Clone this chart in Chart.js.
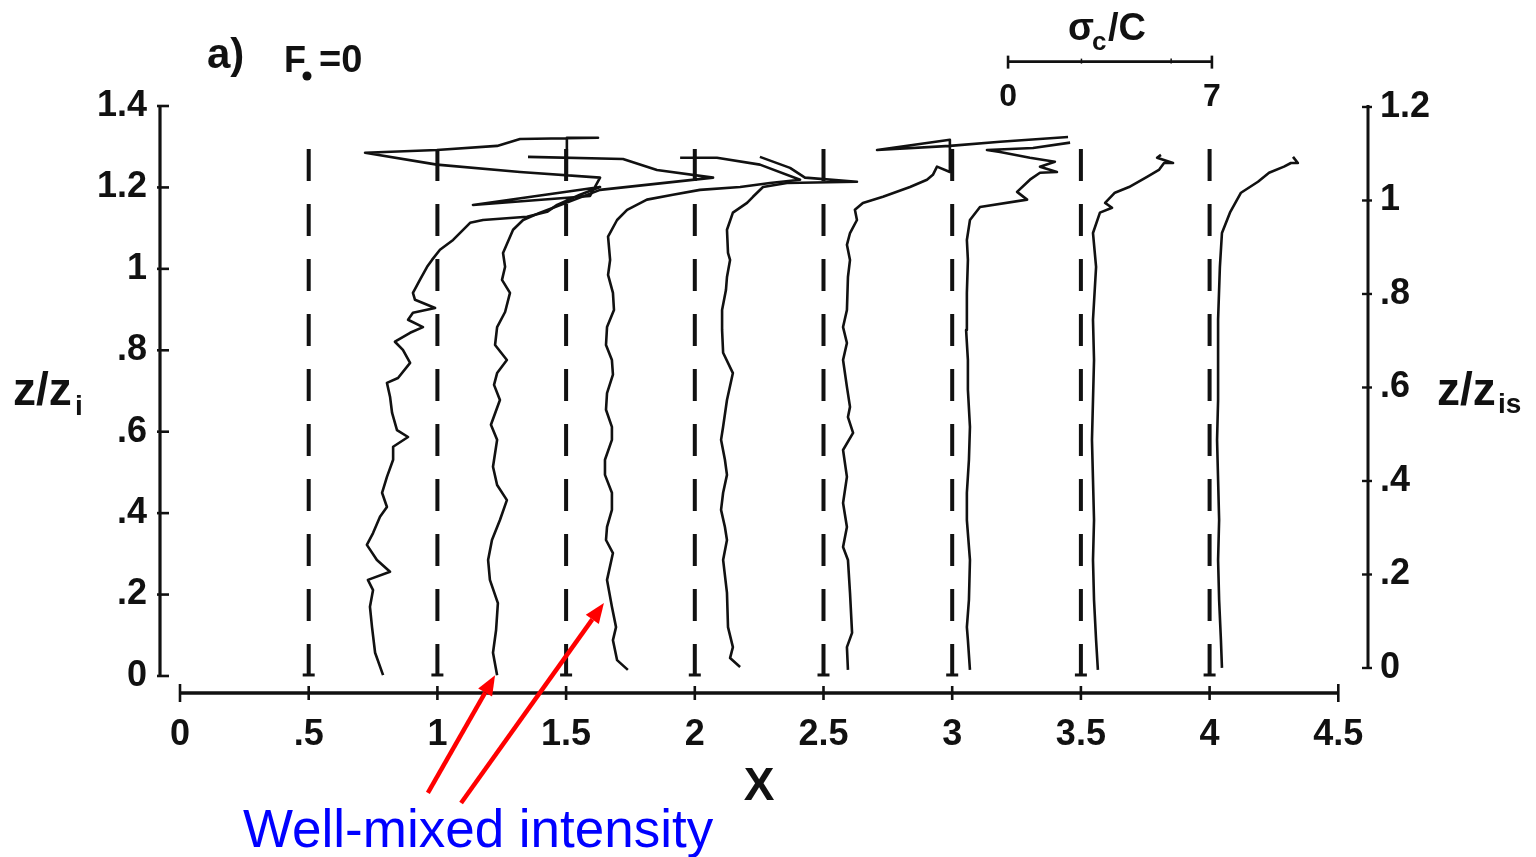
<!DOCTYPE html>
<html><head><meta charset="utf-8">
<script src="https://cdn.jsdelivr.net/npm/chart.js@4.4.0/dist/chart.umd.min.js"></script>
<style>html,body{margin:0;padding:0;background:#fff;overflow:hidden}canvas{display:block}</style>
</head><body>
<canvas id="c" width="1536" height="857"></canvas>
<script>
// ---- tick values ----
const xTicks  = [0, 0.5, 1, 1.5, 2, 2.5, 3, 3.5, 4, 4.5];
const zTicks  = [0, 0.2, 0.4, 0.6, 0.8, 1, 1.2, 1.4];
const zsTicks = [0, 0.2, 0.4, 0.6, 0.8, 1, 1.2];
// ---- reference (dashed) downstream positions X ----
const dashedX = [0.5, 1, 1.5, 2, 2.5, 3, 3.5, 4];
const dashedTop = 1.30;
// ---- sigma_c/C scale bar (0..7) in X units ----
const sigmaBarX = [3.217, 4.009];
const sigmaBarZ = 1.509;
const sigmaBarLabels = ['0', '7'];
// ---- profiles: X position and z/zi ----
const p1X = [0.789,0.758,0.746,0.738,0.750,0.730,0.816,0.765,0.726,0.750,0.777,0.804,0.785,0.804,0.828,0.828,0.886,0.843,0.824,0.816,0.804,0.847,0.894,0.866,0.835,0.894,0.944,0.886,0.905,0.991,0.913,0.905,0.932,0.960,0.979,1.010,1.061,1.127,1.177,1.348,1.426,1.465,1.554,1.632,1.138,1.593,1.632,1.321,0.998,0.719,0.998,1.232,1.321,1.624,1.503,1.503];
const p1Z = [0.002,0.057,0.120,0.170,0.211,0.236,0.256,0.285,0.322,0.351,0.391,0.415,0.450,0.489,0.531,0.563,0.587,0.604,0.646,0.686,0.720,0.732,0.769,0.801,0.821,0.843,0.857,0.875,0.892,0.904,0.924,0.941,0.973,1.005,1.022,1.047,1.071,1.113,1.120,1.128,1.140,1.157,1.182,1.201,1.157,1.179,1.224,1.238,1.256,1.285,1.292,1.302,1.319,1.322,1.322,1.229];
const p2X = [1.232,1.216,1.228,1.235,1.204,1.197,1.212,1.243,1.270,1.232,1.216,1.232,1.208,1.243,1.220,1.232,1.270,1.224,1.232,1.263,1.282,1.251,1.263,1.255,1.294,1.333,1.399,1.632,2.071,1.853,1.721,1.352];
const p2Z = [0.002,0.057,0.113,0.179,0.236,0.285,0.334,0.383,0.432,0.469,0.514,0.580,0.617,0.678,0.715,0.744,0.776,0.813,0.857,0.894,0.941,0.973,1.005,1.039,1.096,1.120,1.138,1.194,1.224,1.243,1.270,1.275];
const p3X = [1.740,1.698,1.682,1.694,1.678,1.659,1.682,1.655,1.659,1.678,1.678,1.651,1.651,1.678,1.678,1.655,1.659,1.682,1.678,1.655,1.659,1.686,1.682,1.663,1.671,1.663,1.698,1.737,1.814,1.915,2.020,2.176,2.292,2.409,2.253,2.086,1.943];
const p3Z = [0.015,0.039,0.088,0.120,0.170,0.236,0.302,0.334,0.366,0.408,0.450,0.494,0.531,0.580,0.612,0.654,0.695,0.740,0.776,0.813,0.857,0.899,0.941,0.985,1.022,1.079,1.120,1.145,1.170,1.182,1.194,1.201,1.211,1.219,1.256,1.273,1.273];
const p4X = [2.176,2.137,2.148,2.129,2.125,2.110,2.125,2.117,2.102,2.110,2.125,2.117,2.102,2.110,2.125,2.148,2.110,2.106,2.106,2.121,2.125,2.137,2.129,2.125,2.148,2.203,2.226,2.265,2.358,2.630,2.428,2.370,2.253];
const p4Z = [0.022,0.044,0.071,0.120,0.204,0.285,0.334,0.366,0.408,0.450,0.494,0.531,0.580,0.612,0.678,0.744,0.794,0.850,0.899,0.948,0.980,1.022,1.039,1.096,1.138,1.162,1.177,1.201,1.211,1.214,1.224,1.248,1.275];
const p5X = [2.595,2.591,2.611,2.603,2.595,2.576,2.591,2.576,2.591,2.576,2.615,2.595,2.603,2.591,2.576,2.591,2.576,2.591,2.595,2.603,2.591,2.603,2.630,2.622,2.653,2.731,2.836,2.902,2.925,2.941,2.991,2.991,2.708,2.991,3.186,3.450];
const p5Z = [0.015,0.071,0.106,0.204,0.285,0.317,0.366,0.425,0.489,0.555,0.597,0.636,0.661,0.710,0.776,0.818,0.857,0.899,0.980,1.022,1.059,1.088,1.120,1.145,1.162,1.177,1.201,1.219,1.231,1.251,1.238,1.317,1.292,1.302,1.312,1.324];
const p6X = [3.069,3.061,3.057,3.065,3.069,3.057,3.057,3.065,3.069,3.061,3.061,3.054,3.057,3.061,3.057,3.069,3.108,3.291,3.252,3.302,3.341,3.407,3.341,3.399,3.302,3.186,3.135,3.314,3.458];
const p6Z = [0.015,0.088,0.120,0.187,0.285,0.383,0.450,0.531,0.612,0.703,0.776,0.850,0.941,1.022,1.071,1.120,1.152,1.170,1.189,1.219,1.236,1.238,1.251,1.263,1.273,1.287,1.292,1.297,1.310];
const p7X = [3.566,3.559,3.551,3.547,3.551,3.547,3.543,3.547,3.551,3.547,3.559,3.547,3.574,3.621,3.594,3.632,3.687,3.757,3.803,3.823,3.858,3.796,3.811];
const p7Z = [0.015,0.088,0.187,0.285,0.383,0.482,0.580,0.678,0.776,0.875,1.005,1.088,1.138,1.150,1.162,1.187,1.201,1.226,1.243,1.260,1.260,1.273,1.280];
const p8X = [4.048,4.044,4.037,4.033,4.037,4.033,4.029,4.033,4.033,4.033,4.040,4.048,4.079,4.122,4.188,4.231,4.289,4.316,4.343,4.324];
const p8Z = [0.020,0.088,0.187,0.285,0.383,0.482,0.580,0.678,0.776,0.875,1.005,1.088,1.138,1.187,1.214,1.236,1.251,1.260,1.260,1.275];
// ---- annotation arrows (data coords: tail -> head) ----
const arrowTails = [[0.963,-0.287],[1.092,-0.312]];
const arrowHeads = [[1.224,0.002],[1.647,0.179]];
const noteText = 'Well-mixed intensity';

const profilesX = [p1X,p2X,p3X,p4X,p5X,p6X,p7X,p8X];
const profilesZ = [p1Z,p2Z,p3Z,p4Z,p5Z,p6Z,p7Z,p8Z];

const INK = '#111';
const FAM = '"Liberation Sans", Arial, Helvetica, sans-serif';
const fmt = v => { let s = (Math.round(v*10)/10).toString(); if (s.startsWith('0.')) s = s.slice(1); return s; };

const datasets = [];
profilesX.forEach((px, i) => {
  const pz = profilesZ[i];
  const n = Math.min(px.length, pz.length);
  const data = [];
  for (let k = 0; k < n; k++) data.push({x: px[k], y: pz[k]});
  datasets.push({data, showLine: true, borderColor: INK, borderWidth: 2.6, pointRadius: 0,
    tension: 0, fill: false, clip: false, yAxisID: 'y', order: 1, borderJoinStyle: 'round'});
});
dashedX.forEach(xv => {
  datasets.push({data: [{x: xv, y: 0}, {x: xv, y: dashedTop}], showLine: true, borderColor: INK,
    borderWidth: 4, borderDash: [32, 23], borderCapStyle: 'butt', pointRadius: 0, clip: false,
    yAxisID: 'y', order: 2});
});

const overlay = {
  id: 'overlay',
  afterDraw(chart) {
    const {ctx, chartArea: ca, scales} = chart;
    const X = scales.x, Y = scales.y, Y2 = scales.y2;
    const seg = (a, b, c, d) => { ctx.beginPath(); ctx.moveTo(a, b); ctx.lineTo(c, d); ctx.stroke(); };
    ctx.save();
    ctx.strokeStyle = INK; ctx.fillStyle = INK; ctx.lineCap = 'butt';
    // dashed-line feet
    ctx.lineWidth = 3;
    dashedX.forEach(xv => { const p = X.getPixelForValue(xv), q = Y.getPixelForValue(0); seg(p - 6, q - 1, p + 6, q - 1); });
    // left axis
    const lx = ca.left;
    ctx.lineWidth = 3.2;
    seg(lx, Y.getPixelForValue(0) + 1, lx, Y.getPixelForValue(1.4) - 1);
    ctx.lineWidth = 2.6;
    zTicks.forEach(v => { const p = Y.getPixelForValue(v); seg(lx - 3, p, lx + 9, p); });
    // bottom axis
    const by = ca.bottom;
    ctx.lineWidth = 3.4;
    seg(X.getPixelForValue(0), by, X.getPixelForValue(4.5), by);
    ctx.lineWidth = 2.6;
    xTicks.forEach((v, i) => { const p = X.getPixelForValue(v); const h = (i === 0 || i === xTicks.length - 1) ? 9 : 7; seg(p, by - h, p, by + h); });
    // right axis
    const rx = ca.right;
    ctx.lineWidth = 3;
    seg(rx, Y2.getPixelForValue(0) + 1, rx, Y2.getPixelForValue(1.2) - 2);
    ctx.lineWidth = 2.4;
    zsTicks.forEach(v => { const p = Y2.getPixelForValue(v); seg(rx - 6, p, rx + 4, p); });
    // sigma scale bar
    const s0 = X.getPixelForValue(sigmaBarX[0]), s1 = X.getPixelForValue(sigmaBarX[1]), sy = Y.getPixelForValue(sigmaBarZ);
    ctx.lineWidth = 2.6;
    seg(s0, sy, s1, sy);
    seg(s0, sy - 6, s0, sy + 7); seg(s1, sy - 6, s1, sy + 7);
    ctx.lineWidth = 1.5;
    seg(s0 + (s1 - s0) * 0.36, sy - 3, s0 + (s1 - s0) * 0.36, sy + 2);
    seg(s0 + (s1 - s0) * 0.80, sy - 3, s0 + (s1 - s0) * 0.80, sy + 2);
    ctx.font = 'bold 32px ' + FAM; ctx.textAlign = 'center'; ctx.textBaseline = 'alphabetic';
    ctx.fillText(sigmaBarLabels[0], s0, sy + 44);
    ctx.fillText(sigmaBarLabels[1], s1, sy + 44);
    // sigma_c/C label
    ctx.textAlign = 'left';
    ctx.font = 'bold 38px ' + FAM; ctx.fillText('σ', 1068, 40);
    ctx.font = 'bold 26px ' + FAM; ctx.fillText('c', 1092, 50);
    ctx.font = 'bold 38px ' + FAM; ctx.fillText('/C', 1108, 40);
    // panel label
    ctx.font = 'bold 42px ' + FAM; ctx.fillText('a)', 207, 68);
    ctx.font = 'bold 36px ' + FAM; ctx.fillText('F', 284, 72);
    ctx.beginPath(); ctx.arc(307, 76, 4.5, 0, Math.PI * 2); ctx.fill();
    ctx.font = 'bold 38px ' + FAM; ctx.fillText('=0', 319, 72);
    // axis titles
    ctx.font = 'bold 46px ' + FAM; ctx.fillText('z/z', 13, 405);
    ctx.font = 'bold 28px ' + FAM; ctx.fillText('i', 75, 415);
    ctx.font = 'bold 46px ' + FAM; ctx.fillText('z/z', 1437, 405);
    ctx.font = 'bold 28px ' + FAM; ctx.fillText('is', 1498, 413);
    ctx.font = 'bold 46px ' + FAM; ctx.textAlign = 'center';
    ctx.fillText('X', X.getPixelForValue(2.25), 800);
    // arrows
    ctx.strokeStyle = '#f00'; ctx.fillStyle = '#f00'; ctx.lineWidth = 4.5;
    arrowTails.forEach((t, i) => {
      const h = arrowHeads[i];
      const x0 = X.getPixelForValue(t[0]), y0 = Y.getPixelForValue(t[1]);
      const x1 = X.getPixelForValue(h[0]), y1 = Y.getPixelForValue(h[1]);
      const ang = Math.atan2(y1 - y0, x1 - x0), L = 20, W = 8;
      const bx = x1 - L * Math.cos(ang), byy = y1 - L * Math.sin(ang);
      seg(x0, y0, bx, byy);
      ctx.beginPath(); ctx.moveTo(x1, y1);
      ctx.lineTo(bx + W * Math.sin(ang), byy - W * Math.cos(ang));
      ctx.lineTo(bx - W * Math.sin(ang), byy + W * Math.cos(ang));
      ctx.closePath(); ctx.fill();
    });
    // note
    ctx.fillStyle = '#0000ff'; ctx.textAlign = 'left';
    ctx.font = '53px ' + FAM; ctx.fillText(noteText, 243, 847);
    ctx.restore();
  }
};

const tickFont = {family: FAM, size: 36, weight: 'bold'};
new Chart(document.getElementById('c'), {
  type: 'scatter',
  data: {datasets},
  options: {
    responsive: false, animation: false, devicePixelRatio: 1,
    layout: {padding: {top: 106, left: 0, right: 0, bottom: 0}, autoPadding: false},
    plugins: {legend: {display: false}, tooltip: {enabled: false}},
    events: [],
    scales: {
      x: {type: 'linear', position: 'bottom', min: -0.0777, max: 4.6154,
        grid: {display: false, drawTicks: false}, border: {display: false},
        afterBuildTicks: s => { s.ticks = xTicks.map(v => ({value: v})); },
        afterFit: s => { s.height = 164; },
        ticks: {autoSkip: false, maxRotation: 0, padding: 20, color: INK, font: tickFont, callback: v => fmt(v)}},
      y: {type: 'linear', position: 'left', min: -0.0418, max: 1.4,
        grid: {display: false, drawTicks: false}, border: {display: false},
        afterBuildTicks: s => { s.ticks = zTicks.map(v => ({value: v})); },
        afterFit: s => { s.width = 160; },
        ticks: {autoSkip: false, padding: 13, color: INK, font: tickFont, callback: v => fmt(v)}},
      y2: {type: 'linear', position: 'right', min: -0.0535, max: 1.2021,
        grid: {display: false, drawTicks: false}, border: {display: false},
        afterBuildTicks: s => { s.ticks = zsTicks.map(v => ({value: v})); },
        afterFit: s => { s.width = 168; },
        ticks: {autoSkip: false, padding: 12, color: INK, font: tickFont, callback: v => fmt(v)}}
    }
  },
  plugins: [overlay]
});
</script>
</body></html>
